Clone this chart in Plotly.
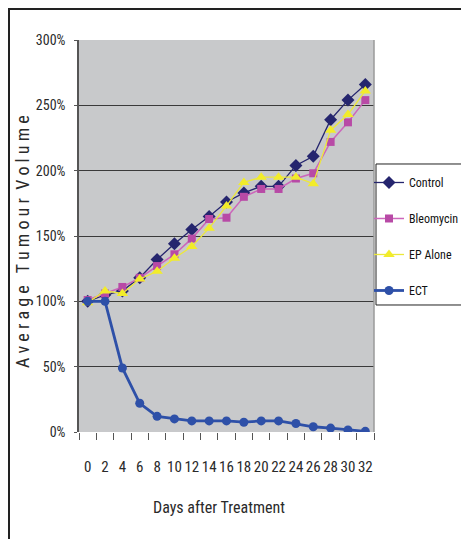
import plotly.graph_objects as go

days = ["0", "2", "4", "6", "8", "10", "12", "14", "16", "18", "20", "22", "24", "26", "28", "30", "32"]
control = [100, 105, 108, 118, 132, 144, 155, 165, 176, 183, 188, 188, 204, 211, 239, 254, 266]
bleomycin = [101, 106, 111, 118, 127, 136, 148, 163, 164, 180, 186, 186, 194, 198, 222, 237, 254]
ep_alone = [99, 108, 106, 117, 123, 133, 142, 156, 173, 191, 195, 195, 195, 190, 231, 243, 261]
ect = [100, 100, 49, 22, 12, 10, 8.5, 8.5, 8.5, 7.5, 8.5, 8.5, 6.5, 4, 3, 1.5, 0.5]

FONT = "Liberation Sans Narrow, Roboto Condensed, Lato, sans-serif"
TXT = "#2a2a2a"

fig = go.Figure()
fig.add_trace(go.Scatter(x=days, y=control, name="Control", mode="lines+markers", legendgroup="a",
                         line=dict(color="#25256e", width=1.3),
                         marker=dict(symbol="diamond", size=10, color="#25256e")))
fig.add_trace(go.Scatter(x=days, y=bleomycin, name="Bleomycin", mode="lines+markers", legendgroup="b",
                         line=dict(color="#cc66bb", width=1.5),
                         marker=dict(symbol="square", size=8, color="#b84aa6")))
fig.add_trace(go.Scatter(x=days, y=ep_alone, name="EP Alone", mode="lines+markers", legendgroup="c",
                         line=dict(color="#ece83a", width=1.3),
                         marker=dict(symbol="triangle-up", size=10, color="#f2ec2a")))
fig.add_trace(go.Scatter(x=days, y=ect, name="ECT", mode="lines+markers", legendgroup="d",
                         line=dict(color="#2e50a8", width=2.8),
                         marker=dict(symbol="circle", size=9, color="#2e50a8")))

fig.update_layout(
    width=453, height=531,
    margin=dict(l=71, r=87, t=32, b=107, autoexpand=False),
    paper_bgcolor="white",
    plot_bgcolor="#c8c9cb",
    font=dict(family=FONT, size=14, color=TXT),
    showlegend=True,
    legend=dict(x=0.9831, y=0.6735, xanchor="left", yanchor="top",
                bgcolor="rgba(0,0,0,0)", borderwidth=0,
                font=dict(size=12, family=FONT, color="#111111"),
                tracegroupgap=17, itemwidth=30),
    xaxis=dict(type="category", tickson="boundaries", ticks="outside", ticklen=7,
               tickcolor="#555555", showline=False, showgrid=False, zeroline=False,
               tickmode="array", tickvals=days, ticktext=days,
               ticklabelstandoff=24, tickfont=dict(size=15), tickangle=0,
               range=[-0.5, 16.5]),
    yaxis=dict(range=[0, 300], dtick=50, ticksuffix="%", ticks="outside", ticklen=3,
               tickcolor="#555555", showline=True, linecolor="#555555", linewidth=1.5,
               gridcolor="#3a3a3a", gridwidth=1, zeroline=False,
               ticklabelstandoff=6, tickfont=dict(size=14)),
)

fig.add_annotation(text="Days after Treatment", xref="paper", yref="paper",
                   x=(219 - 79) / 295, y=(432 - 508) / 392, xanchor="center", yanchor="middle",
                   showarrow=False, font=dict(size=16, family=FONT, color=TXT))
fig.add_annotation(text="A v e r a g e   T u m o u r  V o l u m e", xref="paper", yref="paper",
                   x=(22 - 79) / 295, y=(432 - 242) / 392, xanchor="center", yanchor="middle",
                   showarrow=False, textangle=-90,
                   font=dict(size=18, family=FONT, color=TXT))

# plot-area right border (light gray)
fig.add_shape(type="line", xref="paper", yref="paper", x0=1, x1=1, y0=0, y1=1,
              line=dict(color="#9a9a9a", width=1.5))
# legend box
fig.add_shape(type="rect", xref="paper", yref="paper",
              x0=1.0068, x1=1.4, y0=0.324, y1=0.6837,
              line=dict(color="#222222", width=1), fillcolor="white", layer="above")
# outer frame
fig.add_shape(type="rect", xref="paper", yref="paper",
              x0=(1 - 71) / 295, x1=1.4, y0=-0.4, y1=(424 - 1) / 392,
              line=dict(color="#222222", width=2))

fig.write_html("out.html")
